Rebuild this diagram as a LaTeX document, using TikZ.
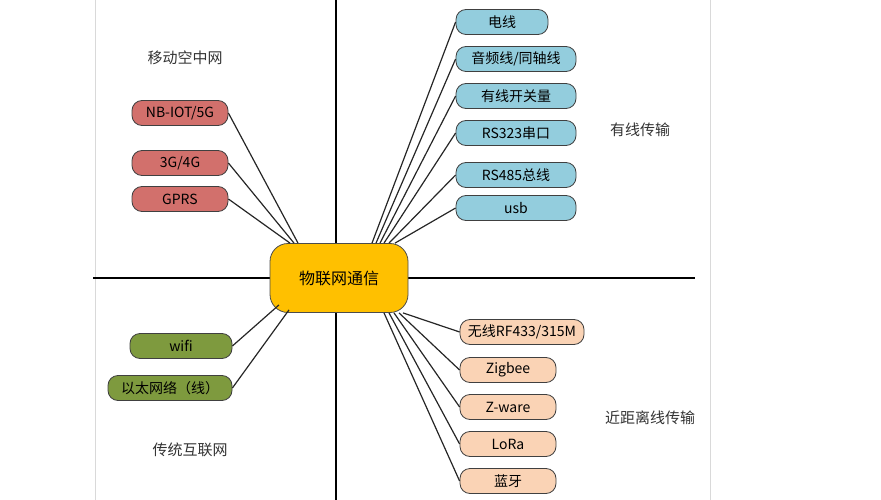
\documentclass[tikz,border=0pt]{standalone}
\usepackage{fontspec}
\setmainfont{Noto Sans CJK SC}
\definecolor{mobred}{HTML}{D2706C}
\definecolor{wireblue}{HTML}{93CDDD}
\definecolor{nearpeach}{HTML}{FAD3B5}
\definecolor{netgreen}{HTML}{7E9A3E}
\definecolor{hubgold}{HTML}{FFC000}
\tikzset{
  leaf/.style={draw=black!75, thick, rounded corners=10pt, minimum height=25pt, inner sep=1pt, font=\fontsize{14}{16}\selectfont},
  redleaf/.style={leaf, fill=mobred, minimum width=96pt},
  blueleaf/.style={leaf, fill=wireblue, minimum width=120pt},
  peachleaf/.style={leaf, fill=nearpeach, minimum width=96pt},
  greenleaf/.style={leaf, fill=netgreen, minimum width=102pt},
  zone/.style={font=\fontsize{15}{17}\selectfont, text=black!80},
  spoke/.style={line width=1.2pt, black!85}
}
\begin{document}
\begin{tikzpicture}[x=1pt, y=-1pt]
        \useasboundingbox (0,0) rectangle (881,500);
        \draw[black!15] (95,0) -- (95,500);
        \draw[black!15] (710,0) -- (710,500);
        % axes
        \draw[line width=2.8pt] (336,0) -- (336,500);
        \draw[line width=2.8pt] (93,278) -- (695,278);
        % spokes drawn under the hub
        \node[draw=black!70, thick, fill=hubgold, rounded corners=18pt, minimum width=138pt, minimum height=69pt, font=\fontsize{16}{18}\selectfont]
          (IOT) at (339,278) {物联网通信};
        % zone labels
        \node[zone] (MOB) at (185,58) {移动空中网};
        \node[zone] (WIRE) at (640,130) {有线传输};
        \node[zone] (NEAR) at (650,418) {近距离线传输};
        \node[zone] (NET) at (190,450) {传统互联网};
        % mobile
        \node[redleaf] (NB) at (180,113) {NB-IOT/5G};
        \node[redleaf] (G34) at (180,163) {3G/4G};
        \node[redleaf] (GPRS) at (180,199) {GPRS};
        \draw[spoke] (NB.east) -- ([xshift=-41pt]IOT.north);
        \draw[spoke] (G34.east) -- ([xshift=-45pt]IOT.north);
        \draw[spoke] (GPRS.east) -- ([xshift=-49pt]IOT.north);
        % wired
        \node[blueleaf, minimum width=92pt] (PWR) at (502,22) {电线};
        \node[blueleaf] (AUD) at (516,59) {音频线/同轴线};
        \node[blueleaf] (SW) at (516,96) {有线开关量};
        \node[blueleaf] (RSA) at (516,133) {RS323串口};
        \node[blueleaf] (RSB) at (516,175) {RS485总线};
        \node[blueleaf] (USB) at (516,208) {usb};
        \foreach \n/\d in {PWR/33, AUD/37, SW/41, RSA/45, RSB/50, USB/56}
          \draw[spoke] (\n.west) -- ([xshift=\d pt]IOT.north);
        % short range
        \node[peachleaf, minimum width=124pt] (RF) at (522,332) {无线RF433/315M};
        \node[peachleaf] (ZIG) at (508,370) {Zigbee};
        \node[peachleaf] (ZW) at (508,407) {Z-ware};
        \node[peachleaf] (LORA) at (508,444) {LoRa};
        \node[peachleaf] (BT) at (508,481) {蓝牙};
        \foreach \n/\d in {RF/64, ZIG/60, ZW/55, LORA/50, BT/45}
          \draw[spoke] (\n.west) -- ([xshift=\d pt]IOT.south);
        % internet
        \node[greenleaf] (WIFI) at (181,346) {wifi};
        \node[greenleaf, minimum width=124pt] (ETH) at (170,388) {以太网络（线）};
        \draw[spoke] (WIFI.east) -- ([xshift=-60pt, yshift=8pt]IOT.south);
        \draw[spoke] (ETH.east) -- ([xshift=-50pt, yshift=3pt]IOT.south);
      \end{tikzpicture}
\end{document}
